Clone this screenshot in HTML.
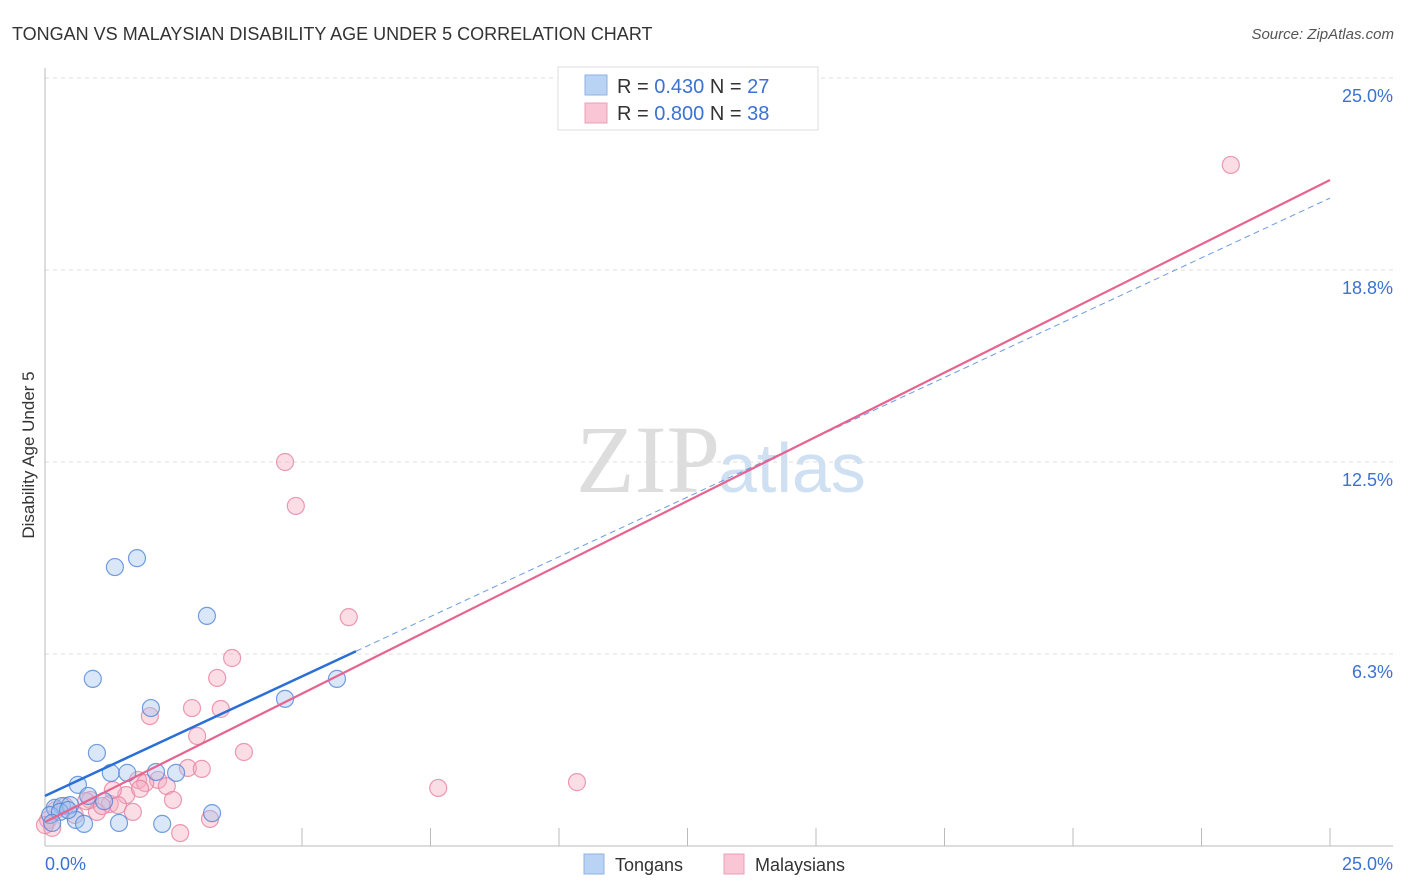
<!DOCTYPE html>
<html><head><meta charset="utf-8"><style>
body{margin:0;background:#fff;font-family:"Liberation Sans",sans-serif}
svg{display:block}
</style></head><body>
<svg id="chart" width="1406" height="892">
<text x="12" y="40" font-size="18" fill="#333">TONGAN VS MALAYSIAN DISABILITY AGE UNDER 5 CORRELATION CHART</text>
<text x="1394" y="39" font-size="15" fill="#555" font-style="italic" text-anchor="end">Source: ZipAtlas.com</text>
<text x="720" y="492" font-size="96" fill="#ddd" text-anchor="end" font-family="Liberation Serif,serif">ZIP</text>
<text x="718" y="492" font-size="70" fill="#cfe0f3">atlas</text>
<text x="34" y="455" font-size="17" fill="#333" text-anchor="middle" transform="rotate(-90 34 455)">Disability Age Under 5</text>
<g id="grid"></g><g id="pts"></g><g id="lines"></g>
<g>
<rect x="558" y="67" width="260" height="63" fill="#fff" stroke="#ddd"/>
<rect x="585" y="75" width="22" height="20" fill="#b9d3f5" stroke="#8fb2e3"/>
<rect x="585" y="103" width="22" height="20" fill="#f8c6d4" stroke="#ec9fb7"/>
<text x="617" y="93" font-size="20" fill="#333">R = <tspan fill="#3a72d2">0.430</tspan>   N = <tspan fill="#3a72d2">27</tspan></text>
<text x="617" y="120" font-size="20" fill="#333">R = <tspan fill="#3a72d2">0.800</tspan>   N = <tspan fill="#3a72d2">38</tspan></text>
</g>
<g>
<rect x="584" y="854" width="20" height="20" fill="#b9d3f5" stroke="#8fb2e3"/>
<text x="615" y="871" font-size="18" fill="#333">Tongans</text>
<rect x="724" y="854" width="20" height="20" fill="#f8c6d4" stroke="#ec9fb7"/>
<text x="755" y="871" font-size="18" fill="#333">Malaysians</text>
</g>
</svg>
<script>
const yTicks=[6.3,12.5,18.8,25.0];
const xTickLabels=["0.0%","25.0%"];
const tonganX=[1.79,1.36,3.15,0.93,2.06,4.67,5.68,1.01,1.28,1.60,2.16,2.55,0.64,0.19,0.33,0.49,0.84,1.15,0.10,0.29,0.60,0.76,1.44,2.28,3.25,0.14,0.45];
const tonganY=[9.37,9.08,7.49,5.44,4.49,4.79,5.44,3.03,2.38,2.38,2.41,2.38,1.99,1.24,1.30,1.33,1.63,1.46,1.01,1.11,0.85,0.72,0.75,0.72,1.07,0.75,1.17];
const malayX=[23.07,4.67,4.88,5.91,3.64,3.35,2.86,3.42,2.04,2.96,3.87,2.78,3.05,7.65,10.35,1.81,2.20,2.37,1.95,2.49,1.58,1.26,1.42,0.88,1.71,1.01,2.63,3.21,0.21,0.39,0.06,0.58,0.80,1.11,1.85,0.14,0.0,1.32];
const malayY=[22.17,12.50,11.07,7.45,6.12,5.47,4.49,4.46,4.23,3.58,3.06,2.54,2.51,1.89,2.08,2.15,2.15,1.95,2.05,1.50,1.66,1.37,1.33,1.50,1.11,1.11,0.42,0.88,1.17,1.30,0.85,1.01,1.46,1.30,1.86,0.59,0.68,1.82];
const tonganFit=[1.63,21.09];
const malayFit=[0.78,21.68];
const NS="http://www.w3.org/2000/svg";
const sx=v=>45+v/25*1285, sy=v=>846-v/25*768;
function mk(t,a,p){const e=document.createElementNS(NS,t);for(const k in a)e.setAttribute(k,a[k]);p.appendChild(e);return e;}
const grid=document.getElementById('grid');
yTicks.forEach(t=>{const y=sy(t===6.3?6.25:t===18.8?18.75:t);
const l=mk('line',{x1:45,x2:1393,y1:y,y2:y,stroke:'#ddd','stroke-dasharray':'4,4'},grid);


const tx=mk('text',{x:1393,y:y+24,'font-size':18,fill:'#3a72d2','text-anchor':'end'},grid);tx.textContent=t.toFixed(1)+'%';

});
mk('line',{x1:45,x2:45,y1:68,y2:846,stroke:'#bbb'},grid);
mk('line',{x1:45,x2:1393,y1:846,y2:846,stroke:'#bbb'},grid);
for(let i=2;i<=10;i++){const x=45+i*1285/10;mk('line',{x1:x,x2:x,y1:828,y2:846,stroke:'#bbb'},grid);}
[[45,'start',0],[1393,'end',1]].forEach(([x,a,i])=>{const t=mk('text',{x:x,y:870,'font-size':18,fill:'#3a72d2','text-anchor':a},grid);t.textContent=xTickLabels[i];

});
const pts=document.getElementById('pts');
malayX.forEach((v,i)=>{const c=mk('circle',{cx:sx(v),cy:sy(malayY[i]),r:8.5,fill:'rgba(244,170,192,0.4)',stroke:'rgba(230,130,160,0.8)','stroke-width':1.2},pts);

});
tonganX.forEach((v,i)=>{const c=mk('circle',{cx:sx(v),cy:sy(tonganY[i]),r:8.5,fill:'rgba(160,196,240,0.4)',stroke:'rgba(80,135,215,0.8)','stroke-width':1.2},pts);

});
const ln=document.getElementById('lines');
const tAt=x=>tonganFit[0]+(tonganFit[1]-tonganFit[0])*x/25;
const l1=mk('line',{x1:sx(0),y1:sy(tAt(0)),x2:sx(6.05),y2:sy(tAt(6.05)),stroke:'#2a6fd6','stroke-width':2.5},ln);


const l2=mk('line',{x1:sx(6.05),y1:sy(tAt(6.05)),x2:sx(25),y2:sy(tAt(25)),stroke:'#6a9be0','stroke-width':1,'stroke-dasharray':'6,4'},ln);


const l3=mk('line',{x1:sx(0),y1:sy(malayFit[0]),x2:sx(25),y2:sy(malayFit[1]),stroke:'#e8638f','stroke-width':2.2},ln);


</script>
</body></html>
